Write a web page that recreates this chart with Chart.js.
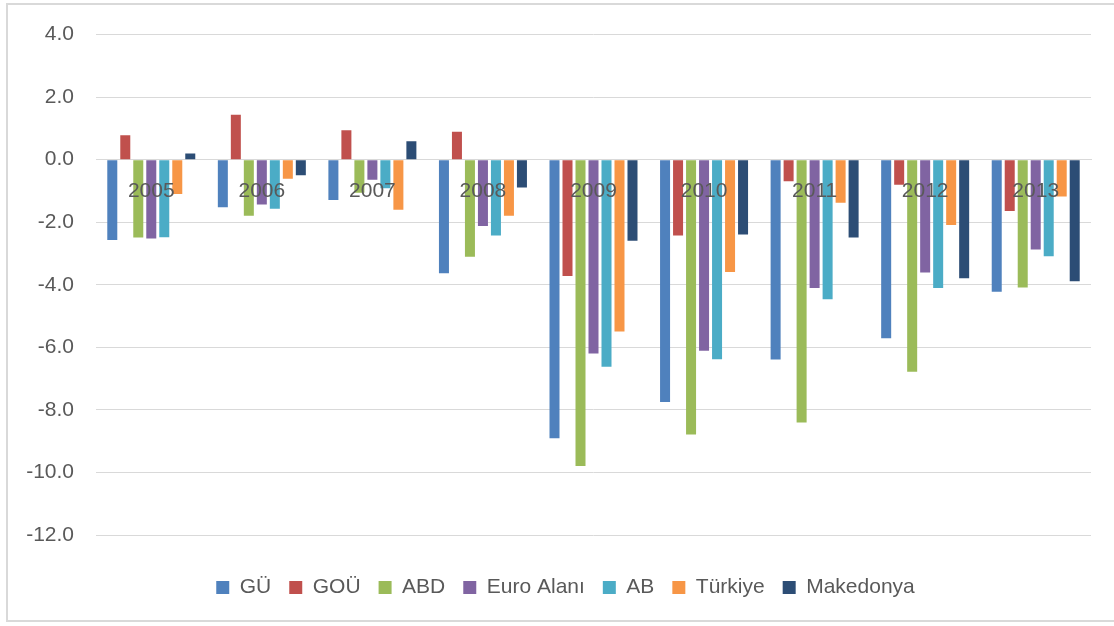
<!DOCTYPE html>
<html>
<head>
<meta charset="utf-8">
<script src="https://cdn.jsdelivr.net/npm/chart.js@4.4.1/dist/chart.umd.min.js"></script>
<style>
  html, body { margin: 0; padding: 0; background: #ffffff; }
  #wrap { position: relative; width: 1114px; height: 626px; overflow: hidden; }
  #frame { position: absolute; left: 6px; top: 3px; width: 1200px; height: 619px; border: 2px solid #d9d9d9; box-sizing: border-box; }
  #chart { position: absolute; left: 0; top: 0; }
</style>
</head>
<body>
<div id="wrap">
  <div id="frame"></div>
  <canvas id="chart" width="1114" height="626"></canvas>
</div>
<script>
// Years on the category axis
const years = ['2005', '2006', '2007', '2008', '2009', '2010', '2011', '2012', '2013'];

// Series values (percent)
const gu        = [-2.57, -1.52, -1.29, -3.63, -8.91, -7.75, -6.39, -5.71, -4.22];
const gou       = [ 0.78,  1.44,  0.94,  0.89, -3.72, -2.42, -0.69, -0.80, -1.64];
const abd       = [-2.49, -1.79, -1.06, -3.10, -9.79, -8.79, -8.40, -6.78, -4.09];
const euroAlani = [-2.52, -1.43, -0.64, -2.12, -6.20, -6.11, -4.10, -3.61, -2.87];
const ab        = [-2.48, -1.57, -0.91, -2.42, -6.62, -6.38, -4.46, -4.10, -3.09];
const turkiye   = [-1.10, -0.61, -1.60, -1.79, -5.49, -3.59, -1.38, -2.09, -1.18];
const makedonya = [ 0.20, -0.50,  0.59, -0.89, -2.59, -2.39, -2.49, -3.79, -3.89];

// Value axis ticks
const yTicks = [4, 2, 0, -2, -4, -6, -8, -10, -12];

const seriesNames  = ['GÜ', 'GOÜ', 'ABD', 'Euro Alanı', 'AB', 'Türkiye', 'Makedonya'];
const seriesValues = [gu, gou, abd, euroAlani, ab, turkiye, makedonya];
const seriesColors = ['#4f81bd', '#c0504d', '#9bbb59', '#8064a2', '#4bacc6', '#f79646', '#2c4d75'];

const textColor = '#595959';
const gridColor = '#d9d9d9';
const fontFamily = '"Liberation Sans", Arial, sans-serif';

// Nudge the legend row to the right so it sits under the plot rather than the canvas centre
const legendShift = {
  id: 'legendShift',
  afterLayout(chart) {
    if (chart.legend) {
      chart.legend.left += 15;
      chart.legend.right += 15;
    }
  }
};

new Chart(document.getElementById('chart'), {
  type: 'bar',
  data: {
    labels: years,
    datasets: seriesNames.map((name, i) => ({
      label: name,
      data: seriesValues[i],
      backgroundColor: seriesColors[i],
      borderWidth: 0,
      categoryPercentage: 0.823,
      barPercentage: 0.77
    }))
  },
  plugins: [legendShift],
  options: {
    responsive: false,
    animation: false,
    devicePixelRatio: 1,
    layout: { padding: { left: 10, right: 23, top: 19, bottom: 18 } },
    plugins: {
      tooltip: { enabled: false },
      legend: {
        position: 'bottom',
        title: {
          display: true,
          text: ' ',
          font: { size: 10 },
          padding: { top: 12, bottom: 0 }
        },
        labels: {
          boxWidth: 13,
          boxHeight: 13,
          padding: 18,
          color: textColor,
          font: { family: fontFamily, size: 21 }
        }
      }
    },
    scales: {
      x: {
        position: { y: 0 },
        grid: { display: false, drawTicks: false },
        border: { display: true, color: gridColor, width: 1 },
        ticks: {
          z: 1,
          padding: 19,
          color: textColor,
          font: { family: fontFamily, size: 21 }
        }
      },
      y: {
        min: -12,
        max: 4,
        afterFit: (axis) => { axis.width = 86; },
        afterBuildTicks: (axis) => { axis.ticks = yTicks.map(v => ({ value: v })); },
        grid: { color: gridColor, lineWidth: 1, drawTicks: false },
        border: { display: false },
        ticks: {
          padding: 22,
          color: textColor,
          font: { family: fontFamily, size: 21 },
          callback: (v) => Number(v).toFixed(1)
        }
      }
    }
  }
});
</script>
</body>
</html>
